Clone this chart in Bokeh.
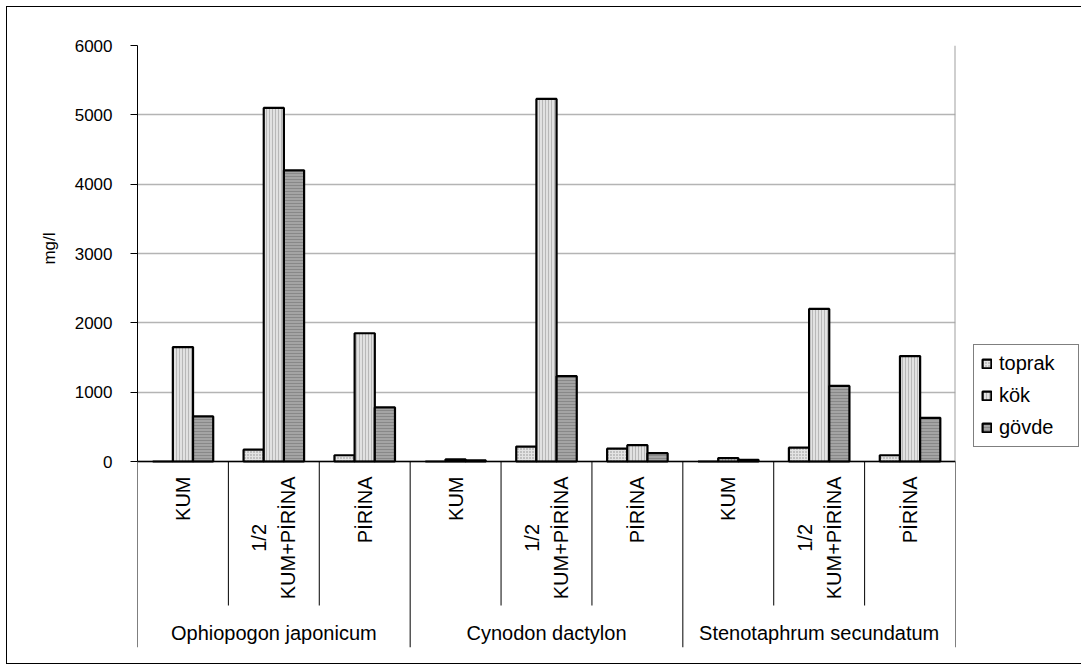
import math
from bokeh.plotting import figure
from bokeh.models import (FactorRange, Range1d, FixedTicker, Span, Legend, LegendItem,
                          ColumnDataSource, Title)
from bokeh.transform import dodge
from bokeh.core.properties import value
from bokeh.embed import file_html
from bokeh.resources import INLINE

# ---------------- data ----------------
groups = ["Ophiopogon japonicum", "Cynodon dactylon", "Stenotaphrum secundatum"]
subs = ["KUM", "1/2\nKUM+PİRİNA", "PİRİNA"]
series = ["toprak", "kök", "gövde"]
toprak = [0, 170, 90, 0, 215, 185, 0, 200, 90]
kok = [1650, 5100, 1850, 30, 5230, 235, 50, 2200, 1520]
govde = [650, 4200, 780, 15, 1230, 120, 25, 1090, 630]
y_ticks = [0, 1000, 2000, 3000, 4000, 5000, 6000]
y_label = "mg/l"

# ---------------- layout constants ----------------
FONT = "Liberation Sans"
FRAME_W = 818
CHART_H = 416          # pixel height of the value area (0..6000)
TABLE_H = 186          # pixel height of the category table below the axis
YMAX = 6000
upp = YMAX / CHART_H   # data units per pixel
ymin = -TABLE_H * upp
LABEL_PX = 20
LINE_SP = 29           # px between the lines of a two-line category label

# approximate Arial / Liberation Sans advance widths (per 1000 em) for label centring
_W = {"K": 667, "U": 722, "M": 833, "+": 584, "P": 667, "İ": 278, "I": 278, "R": 722,
      "N": 722, "A": 667, "1": 556, "/": 278, "2": 556}


def text_px(s):
    return max(sum(_W.get(c, 556) for c in line) for line in s.split("\n")) * LABEL_PX / 1000


factors = [(g, s) for g in groups for s in subs]

p = figure(
    x_range=FactorRange(*factors, group_padding=0, subgroup_padding=0,
                        factor_padding=0, range_padding=0),
    y_range=Range1d(ymin, YMAX),
    frame_width=FRAME_W, frame_height=CHART_H + TABLE_H,
    min_border_left=137, min_border_top=45, min_border_right=126, min_border_bottom=23,
    x_axis_location=None,
    output_backend="svg", toolbar_location=None,
)
p.background_fill_color = "white"
p.border_fill_color = None
p.outline_line_color = None
p.styles = {"outline": "1px solid black", "outline-offset": "-7px"}

# y axis
yax = p.yaxis[0]
yax.bounds = (0, YMAX)
yax.ticker = FixedTicker(ticks=y_ticks)
yax.minor_tick_line_color = None
yax.major_tick_in = 0
yax.major_tick_out = 7
yax.axis_line_color = "black"
yax.major_tick_line_color = "black"
yax.major_label_text_font = FONT
yax.major_label_text_font_size = "17px"
yax.major_label_text_color = "black"
yax.major_label_standoff = 18

# y axis title, placed over the value area (anchored from the top of the frame)
p.add_layout(Title(text=y_label, align="right", offset=187,
                   text_font=FONT, text_font_size="17px", text_font_style="normal",
                   text_color="black", standoff=26), "left")

p.ygrid.bounds = (0, YMAX)
p.ygrid.grid_line_color = "#b4b4b4"
p.ygrid.grid_line_width = 1.5
p.xgrid.visible = False

# ---------------- bars ----------------
src = ColumnDataSource(dict(x=factors, toprak=toprak, kok=kok, govde=govde))
w = 0.222
r1 = p.vbar(x=dodge("x", -w, range=p.x_range), top="toprak", width=w, source=src,
            fill_color="#e4e4e4", hatch_pattern="dot", hatch_color="#8c8c8c",
            hatch_scale=3, hatch_weight=1, line_color="black", line_width=2.2)
r2 = p.vbar(x=dodge("x", 0, range=p.x_range), top="kok", width=w, source=src,
            fill_color="#e2e2e2", hatch_pattern="vertical_line", hatch_color="#b8b8b8",
            hatch_scale=3, hatch_weight=1, line_color="black", line_width=2.2)
r3 = p.vbar(x=dodge("x", w, range=p.x_range), top="govde", width=w, source=src,
            fill_color="#a4a4a4", hatch_pattern="horizontal_line", hatch_color="#888888",
            hatch_scale=3, hatch_weight=1, line_color="black", line_width=2.2)

# x axis line at 0
p.add_layout(Span(location=0, dimension="width", line_color="black", line_width=1.5))

# plot-area right border
rb = ColumnDataSource(dict(x=[factors[-1]], y0=[0], y1=[YMAX]))
p.segment(x0=dodge("x", 0.5, range=p.x_range), x1=dodge("x", 0.5, range=p.x_range),
          y0="y0", y1="y1", source=rb, line_color="#a0a0a0", line_width=2)

# ---------------- category table ----------------
sub_bounds = [f for f in factors if f[1] != subs[0]]
sb = ColumnDataSource(dict(x=sub_bounds, y0=[0] * len(sub_bounds),
                           y1=[-144 * upp] * len(sub_bounds)))
p.segment(x0=dodge("x", -0.5, range=p.x_range), x1=dodge("x", -0.5, range=p.x_range),
          y0="y0", y1="y1", source=sb, line_color="black", line_width=1)

grp_left = [f for f in factors if f[1] == subs[0]]
gb = ColumnDataSource(dict(x=grp_left, y0=[0] * len(grp_left), y1=[ymin] * len(grp_left)))
p.segment(x0=dodge("x", -0.5, range=p.x_range), x1=dodge("x", -0.5, range=p.x_range),
          y0="y0", y1="y1", source=gb, line_color="black", line_width=1)
ge = ColumnDataSource(dict(x=[factors[-1]], y0=[0], y1=[ymin]))
p.segment(x0=dodge("x", 0.5, range=p.x_range), x1=dodge("x", 0.5, range=p.x_range),
          y0="y0", y1="y1", source=ge, line_color="black", line_width=1)

# sub-category labels: vertical, block top-aligned, every line centred on the block
lx, ly, lt, lo = [], [], [], []
for f in factors:
    label = f[1]
    lines = label.split("\n")
    yc = -(15 + text_px(label) / 2) * upp
    n = len(lines)
    for i, line in enumerate(lines):
        lx.append(f)
        ly.append(yc)
        lt.append(line)
        lo.append((i - (n - 1) / 2) * LINE_SP)
ls = ColumnDataSource(dict(x=lx, y=ly, t=lt, xo=lo))
p.text(x="x", y="y", text="t", x_offset="xo", source=ls, angle=math.pi / 2,
       text_align="center", text_baseline="middle",
       text_font=value(FONT), text_font_size=f"{LABEL_PX}px", text_color="black")

# group labels
lg = ColumnDataSource(dict(x=groups, y=[-171 * upp] * len(groups), t=groups))
p.text(x="x", y="y", text="t", source=lg, text_align="center", text_baseline="middle",
       text_font=value(FONT), text_font_size=f"{LABEL_PX}px", text_color="black")

# ---------------- legend ----------------
legend = Legend(items=[LegendItem(label=series[0], renderers=[r1]),
                       LegendItem(label=series[1], renderers=[r2]),
                       LegendItem(label=series[2], renderers=[r3])],
                location=(18, 200))
legend.label_text_font = FONT
legend.label_text_font_size = "20px"
legend.label_text_color = "black"
legend.glyph_width = 11
legend.glyph_height = 11
legend.label_standoff = 7
legend.label_height = 20
legend.label_width = 72
legend.spacing = 9
legend.padding = 7
legend.margin = 0
legend.border_line_color = "black"
legend.border_line_width = 1
legend.background_fill_color = "white"
legend.background_fill_alpha = 1
p.add_layout(legend, "right")

open("out.html", "w").write(file_html(p, INLINE))
